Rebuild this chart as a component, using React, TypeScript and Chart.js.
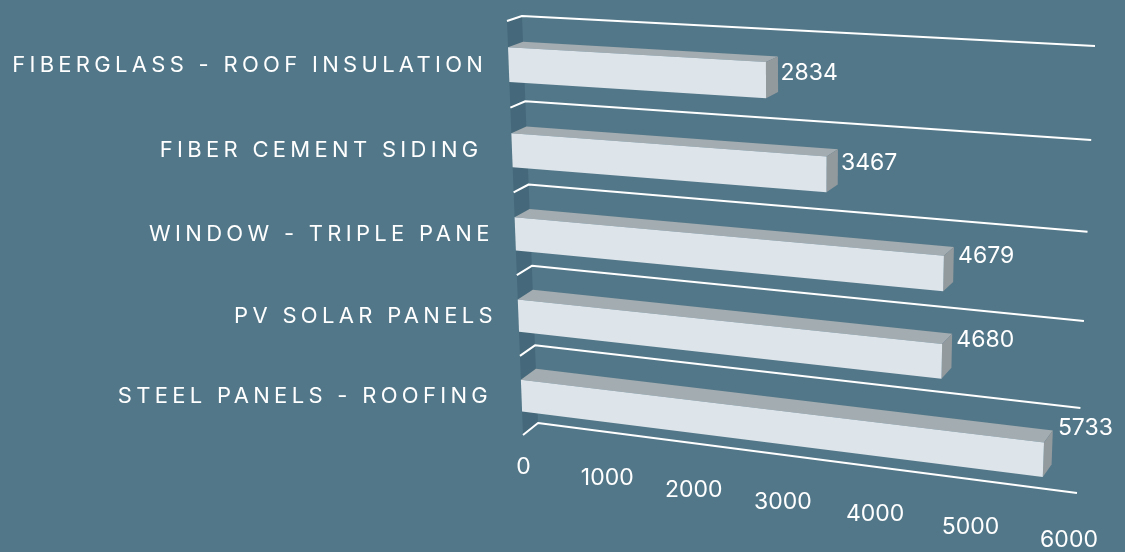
import React, { useEffect, useRef } from "react";
import { Chart, registerables } from "chart.js";

Chart.register(...registerables);

const categories = [
  "FIBERGLASS - ROOF INSULATION",
  "FIBER CEMENT SIDING ",
  "WINDOW - TRIPLE PANE",
  "PV SOLAR PANELS",
  "STEEL PANELS - ROOFING ",
];
const embodiedEnergy = [2834, 3467, 4679, 4680, 5733];
const axisMax = 6000;
const axisStep = 1000;

const BACKGROUND = "#527788";
const WALL = "#45697a";
const GRID = "#ffffff";
const BAR_FRONT = "#dde4ea";
const BAR_TOP = "#a3acb0";
const BAR_SIDE = "#939a9e";
const FONT = "Inter, Lato, sans-serif";

type Pt = [number, number];
type Quad = [Pt, Pt, Pt, Pt];

// Corners of the two receding planes of the box: TL, TR, BR, BL.
const BACK_PLANE: Quad = [[522, 16], [1095, 46], [1077, 493], [538, 423]];
const FRONT_PLANE: Quad = [[507, 21], [1086.5, 51.5], [1068.5, 506], [523, 435]];

// Value captions sit above the bar end by a different lift on each row.
const captionLift = [7, 11, 18, 21, 32];
// Width kept free after a name that ends in a space.
const TRAILING_GAP = 8;

// Projective map from the unit square onto a quadrilateral.
function squareToQuad(q: Quad) {
  const [[x0, y0], [x1, y1], [x2, y2], [x3, y3]] = q;
  const dx1 = x1 - x2, dx2 = x3 - x2, sx = x0 - x1 + x2 - x3;
  const dy1 = y1 - y2, dy2 = y3 - y2, sy = y0 - y1 + y2 - y3;
  const den = dx1 * dy2 - dx2 * dy1;
  const g = (sx * dy2 - dx2 * sy) / den;
  const h = (dx1 * sy - sx * dy1) / den;
  const a = x1 - x0 + g * x1, b = x3 - x0 + h * x3;
  const d = y1 - y0 + g * y1, e = y3 - y0 + h * y3;
  return (u: number, v: number): Pt => {
    const w = g * u + h * v + 1;
    return [(a * u + b * v + x0) / w, (d * u + e * v + y0) / w];
  };
}

const toBack = squareToQuad(BACK_PLANE);
const toFront = squareToQuad(FRONT_PLANE);

function fillPoly(ctx: CanvasRenderingContext2D, pts: Pt[], color: string) {
  ctx.beginPath();
  pts.forEach(([x, y], i) => (i ? ctx.lineTo(x, y) : ctx.moveTo(x, y)));
  ctx.closePath();
  ctx.fillStyle = color;
  ctx.fill();
}

// Draws the box, bars and captions by projecting the scales' pixels.
const perspectiveBars = {
  id: "perspectiveBars",
  beforeDatasetsDraw(chart: any) {
    const { ctx, chartArea: area, scales } = chart;
    const nu = (px: number) => (px - area.left) / (area.right - area.left);
    const nv = (px: number) => (px - area.top) / (area.bottom - area.top);
    const band = (area.bottom - area.top) / categories.length;
    const rowEdges = categories.map((_, i) => scales.y.getPixelForValue(i) - band / 2);
    rowEdges.push(area.bottom);

    ctx.save();
    fillPoly(ctx, [toFront(0, 0), toBack(0, 0), toBack(0, 1), toFront(0, 1)], WALL);

    ctx.strokeStyle = GRID;
    ctx.lineWidth = 2;
    ctx.lineCap = "butt";
    ctx.lineJoin = "round";
    rowEdges.forEach((edge) => {
      const v = nv(edge);
      const a = toFront(0, v), b = toBack(0, v), c = toBack(1, v);
      ctx.beginPath();
      ctx.moveTo(a[0], a[1]);
      ctx.lineTo(b[0], b[1]);
      ctx.lineTo(c[0], c[1]);
      ctx.stroke();
    });

    chart.getDatasetMeta(0).data.forEach((bar: any) => {
      const u0 = nu(bar.base), u1 = nu(bar.x);
      const top = nv(bar.y - bar.height / 2), bottom = nv(bar.y + bar.height / 2);
      fillPoly(ctx, [toBack(u0, top), toBack(u1, top), toFront(u1, top), toFront(u0, top)], BAR_TOP);
      fillPoly(ctx, [toFront(u1, top), toBack(u1, top), toBack(u1, bottom), toFront(u1, bottom)], BAR_SIDE);
      fillPoly(ctx, [toFront(u0, top), toFront(u1, top), toFront(u1, bottom), toFront(u0, bottom)], BAR_FRONT);
    });

    ctx.fillStyle = "#ffffff";
    ctx.textBaseline = "middle";

    // Category names, right-aligned against the front edge of the box.
    ctx.font = `400 22px ${FONT}`;
    ctx.letterSpacing = "4.3px";
    ctx.textAlign = "right";
    categories.forEach((name, i) => {
      const [x, y] = toFront(0, nv(scales.y.getPixelForValue(i)));
      const gap = name.endsWith(" ") ? TRAILING_GAP : 0;
      ctx.fillText(name.trimEnd(), x - 21.5 - gap, y + 0.5);
    });

    // Value captions beside each bar end.
    ctx.font = `400 23px ${FONT}`;
    ctx.letterSpacing = "0px";
    ctx.textAlign = "left";
    chart.getDatasetMeta(0).data.forEach((bar: any, i: number) => {
      const [x, y] = toFront(nu(bar.x), nv(bar.y));
      ctx.fillText(String(embodiedEnergy[i]), x + 14.5, y - captionLift[i]);
    });

    // Value axis labels under the front edge.
    ctx.textAlign = "center";
    scales.x.ticks.forEach((tick: any) => {
      const u = nu(scales.x.getPixelForValue(tick.value));
      const [x, y] = toFront(u, 1);
      ctx.fillText(String(tick.value), x + 0.5, y + 32 + 2 * u);
    });
    ctx.restore();
    return false;
  },
};

export default function App() {
  const canvasRef = useRef<HTMLCanvasElement>(null);

  useEffect(() => {
    document.body.style.margin = "0";
    document.body.style.background = BACKGROUND;
    const chart = new Chart(canvasRef.current!, {
      type: "bar",
      data: {
        labels: categories,
        datasets: [
          {
            data: embodiedEnergy,
            backgroundColor: BAR_FRONT,
            barPercentage: 0.4,
            categoryPercentage: 1,
          },
        ],
      },
      options: {
        indexAxis: "y",
        responsive: false,
        animation: false,
        layout: { padding: 0 },
        plugins: { legend: { display: false }, tooltip: { enabled: false } },
        scales: {
          x: { display: false, min: 0, max: axisMax, ticks: { stepSize: axisStep } },
          y: { display: false },
        },
      },
      plugins: [perspectiveBars],
    });
    return () => chart.destroy();
  }, []);

  return (
    <canvas
      ref={canvasRef}
      width={1125}
      height={552}
      style={{ display: "block", background: BACKGROUND }}
    />
  );
}
